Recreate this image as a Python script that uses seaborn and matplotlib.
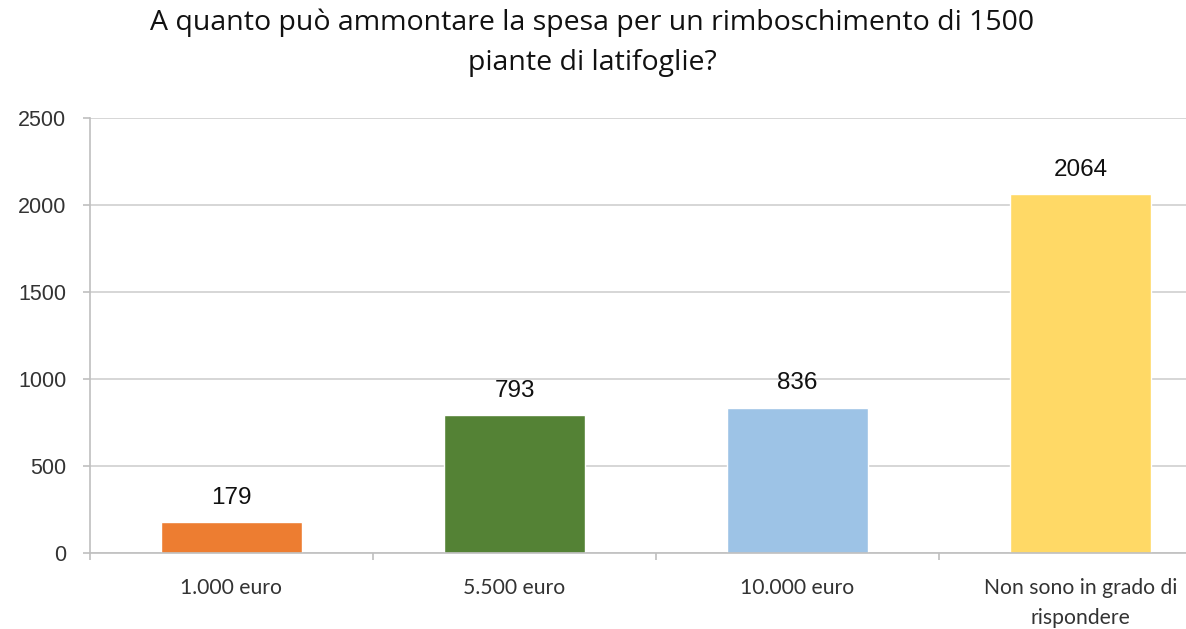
import matplotlib
matplotlib.use('Agg')
import matplotlib.pyplot as plt
import seaborn as sns
import numpy as np

# Chart data
categories = ['1.000 euro', '5.500 euro', '10.000 euro', 'Non sono in grado di\nrispondere']
values = [179, 793, 836, 2064]
colors = ['#ED7D31', '#548235', '#9DC3E6', '#FFD966']
y_ticks = [0, 500, 1000, 1500, 2000, 2500]

sns.set_style('white')
plt.rcParams['font.family'] = ['Liberation Sans', 'DejaVu Sans']
plt.rcParams['text.color'] = '#222222'

fig = plt.figure(figsize=(11.86, 6.29), dpi=100)
ax = fig.add_axes([90 / 1186, 76 / 629, 1132 / 1186, 435 / 629])

sns.barplot(x=categories, y=values, hue=categories, palette=colors,
            width=0.5, legend=False, ax=ax, saturation=1)

ax.set_ylim(0, 2500)
ax.set_xlim(-0.5, 3.5)
ax.set_yticks(y_ticks)
ax.set_yticklabels([str(t) for t in y_ticks], fontsize=15.5, color='#333333')
ax.yaxis.grid(True, color='#D0D0D0', linewidth=1.2)
ax.set_axisbelow(True)

# Category boundary ticks on x-axis
ax.set_xticks(np.arange(len(categories)))
ax.set_xticklabels(categories, fontsize=15.2, color='#333333', family=['Lato', 'DejaVu Sans'],
                   linespacing=1.6)
ax.tick_params(axis='x', bottom=True, length=0, pad=18)
ax.set_xticks(np.arange(-0.5, len(categories), 1), minor=True)
ax.tick_params(axis='x', which='minor', bottom=True, length=5, width=1.2,
               color='#BFBFBF', direction='out')
ax.tick_params(axis='y', left=True, length=5, width=1.2, color='#BFBFBF',
               direction='out', pad=12)

for s in ['top', 'right']:
    ax.spines[s].set_visible(False)
ax.spines['left'].set_color('#BFBFBF')
ax.spines['bottom'].set_color('#BFBFBF')
ax.spines['left'].set_linewidth(1.2)
ax.spines['bottom'].set_linewidth(1.2)

for i, v in enumerate(values):
    ax.text(i, v + 75, str(v), ha='center', va='bottom', fontsize=17.5, color='#111111')

ax.set_xlabel('')
ax.set_ylabel('')
fig.text(592 / 1186, 1 - 43 / 629,
         'A quanto può ammontare la spesa per un rimboschimento di 1500\npiante di latifoglie?',
         ha='center', va='center', fontsize=20.5, linespacing=1.55,
         family=['Open Sans', 'DejaVu Sans'], color='#111111')

fig.savefig('out.png', dpi=100)
